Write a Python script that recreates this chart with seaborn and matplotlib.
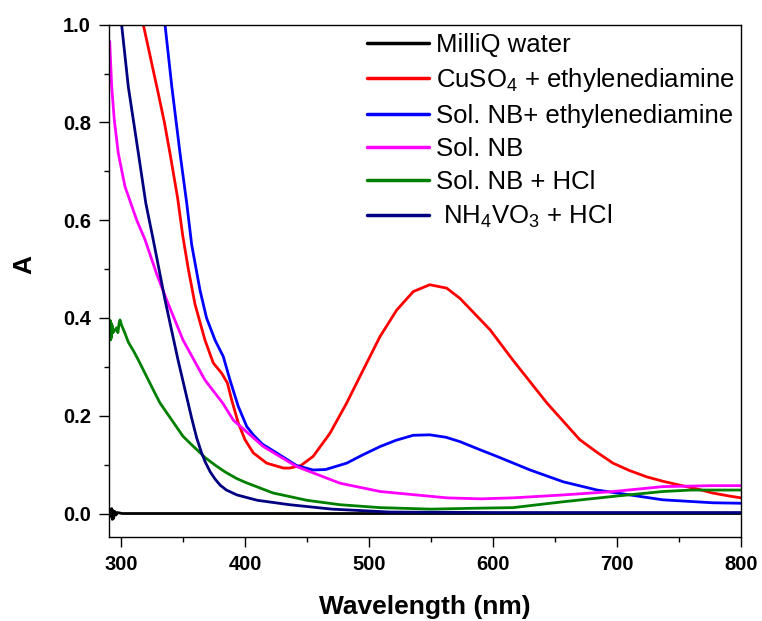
import numpy as np
import pandas as pd
import matplotlib
matplotlib.use("Agg")
import matplotlib.pyplot as plt
import seaborn as sns

# ---- data ----
labels = ["MilliQ water",
          "CuSO$_4$ + ethylenediamine",
          "Sol. NB+ ethylenediamine",
          "Sol. NB",
          "Sol. NB + HCl",
          " NH$_4$VO$_3$ + HCl"]
colors = ["#000000", "#ff0000", "#0000ff", "#ff00ff", "#008000", "#000080"]

water_wl = [290.5, 291, 292, 292.5, 293, 293.5, 294, 295, 296, 297, 299, 301, 350, 400, 500, 600, 700, 800]
water_A = [0.0, 0.008, -0.006, 0.010, -0.012, 0.006, -0.010, 0.004, -0.003, 0.002, 0.001, 0.0,
           0.0, 0.0, 0.0, 0.0, 0.0, 0.0]

cu_wl = [318, 324, 330, 335, 339.5, 345.7, 349.7, 354.3, 359.7, 367.7, 374.4, 381.2, 385.8, 389.3,
         394.6, 400, 406.7, 417.5, 431, 436, 445, 455, 468.5, 482, 495.4, 508.9, 522.3, 535.7,
         549, 562.7, 573.4, 597.6, 616, 643.5, 670, 684, 696.8, 710, 724, 737, 750.8, 765, 777,
         790, 800]
cu_A = [1.0, 0.93, 0.86, 0.80, 0.737, 0.645, 0.57, 0.50, 0.428, 0.355, 0.308, 0.287, 0.267,
        0.232, 0.185, 0.151, 0.124, 0.103, 0.093, 0.093, 0.098, 0.117, 0.164, 0.226, 0.294,
        0.362, 0.416, 0.454, 0.468, 0.461, 0.44, 0.376, 0.314, 0.226, 0.151, 0.125, 0.103,
        0.088, 0.075, 0.066, 0.058, 0.050, 0.042, 0.036, 0.032]

nben_wl = [335.5, 341, 347.6, 353, 357, 363.7, 369, 375.8, 382.5, 387.9, 394.6, 401.4, 407, 414,
           428, 441.7, 455, 465, 482, 495, 509, 522, 535.7, 549, 562, 573.4, 588, 603, 630,
           656.5, 684, 710.5, 737, 777, 800]
nben_A = [1.0, 0.873, 0.737, 0.635, 0.55, 0.457, 0.40, 0.355, 0.321, 0.273, 0.219, 0.178, 0.16,
          0.142, 0.12, 0.098, 0.089, 0.090, 0.103, 0.12, 0.137, 0.15, 0.16, 0.161, 0.156, 0.147,
          0.132, 0.117, 0.089, 0.065, 0.048, 0.038, 0.028, 0.022, 0.021]

nb_wl = [290.9, 291.5, 292.5, 294.6, 297.8, 303.2, 312.7, 319.4, 328.8, 336.8, 350, 367.7, 382,
         390.6, 414.8, 441.7, 476.6, 509, 563, 590, 616, 656.5, 697, 737, 777, 800]
nb_A = [0.966, 0.93, 0.873, 0.805, 0.737, 0.669, 0.60, 0.56, 0.49, 0.437, 0.355, 0.273, 0.226,
        0.191, 0.137, 0.096, 0.062, 0.045, 0.032, 0.030, 0.032, 0.038, 0.045, 0.055, 0.057, 0.057]

nbhcl_wl = [290.5, 291, 291.3, 291.7, 292, 292.4, 292.8, 293.5, 295, 296.5, 297.5, 298.5, 299.2,
            300.5, 303, 306, 310, 314, 327.4, 331.5, 341, 350, 356, 362.3, 368, 377, 384, 393,
            400, 422.6, 450, 476.6, 509, 550, 590, 616, 656.5, 697, 737, 760, 800]
nbhcl_A = [0.38, 0.36, 0.395, 0.355, 0.39, 0.36, 0.385, 0.37, 0.375, 0.38, 0.37, 0.39, 0.396,
           0.385, 0.37, 0.35, 0.333, 0.314, 0.246, 0.226, 0.191, 0.158, 0.143, 0.128, 0.114,
           0.097, 0.085, 0.072, 0.064, 0.042, 0.027, 0.018, 0.012, 0.009, 0.011, 0.012, 0.024,
           0.035, 0.045, 0.048, 0.048]

nh4_wl = [300.5, 305.9, 314, 320, 326, 335.5, 346, 357, 361, 365, 368, 372, 376, 380, 385,
          393.5, 410, 436, 470, 517, 600, 800]
nh4_A = [1.0, 0.873, 0.737, 0.635, 0.56, 0.437, 0.314, 0.195, 0.155, 0.124, 0.105, 0.085, 0.070,
         0.058, 0.048, 0.038, 0.027, 0.018, 0.009, 0.003, 0.002, 0.002]

x_ticks = [300, 400, 500, 600, 700, 800]
y_ticks = [0.0, 0.2, 0.4, 0.6, 0.8, 1.0]

# ---- build long table ----
series = [(labels[0], water_wl, water_A), (labels[1], cu_wl, cu_A),
          (labels[2], nben_wl, nben_A), (labels[3], nb_wl, nb_A),
          (labels[4], nbhcl_wl, nbhcl_A), (labels[5], nh4_wl, nh4_A)]
frames = []
for name, wl, a in series:
    frames.append(pd.DataFrame({"wl": wl, "A": a, "series": name}))
df = pd.concat(frames, ignore_index=True)

sns.set_style("ticks")
plt.rcParams["font.family"] = ["Liberation Sans", "DejaVu Sans"]
plt.rcParams["mathtext.fontset"] = "custom"
plt.rcParams["mathtext.rm"] = "Liberation Sans"
plt.rcParams["mathtext.it"] = "Liberation Sans:italic"
plt.rcParams["mathtext.bf"] = "Liberation Sans:bold"
for key in ["text.color", "axes.labelcolor", "xtick.color", "ytick.color", "axes.edgecolor"]:
    plt.rcParams[key] = "black"

fig = plt.figure(figsize=(7.62, 6.21), dpi=100)
ax = fig.add_axes([0.1430, 0.1353, 0.8294, 0.8250])

sns.lineplot(data=df, x="wl", y="A", hue="series", hue_order=labels,
             palette=dict(zip(labels, colors)), sort=False, estimator=None,
             linewidth=2.0, ax=ax)
for ln in ax.get_lines():
    ln.set_solid_joinstyle("round")

ax.set_xlim(290.3, 800)
ax.set_ylim(-0.048, 1.0)
ax.set_xticks(x_ticks)
ax.set_yticks(y_ticks)
ax.set_xticklabels([str(t) for t in x_ticks])
ax.set_yticklabels([f"{t:.1f}" for t in y_ticks])
ax.set_xticks([350, 450, 550, 650, 750], minor=True)
ax.set_yticks([0.1, 0.3, 0.5, 0.7, 0.9], minor=True)
ax.tick_params(which="major", direction="out", length=7, width=1.0, labelsize=14.5, pad=6,
               color="black", labelcolor="black")
ax.tick_params(which="minor", direction="out", length=3.6, width=1.0, color="black")
for lab in ax.get_xticklabels() + ax.get_yticklabels():
    lab.set_fontweight("bold")
for s in ax.spines.values():
    s.set_linewidth(1.0)
    s.set_color("black")

ax.set_xlabel("Wavelength (nm)", fontsize=19, fontweight="bold", labelpad=15, color="black")
ax.set_ylabel("A", fontsize=19, fontweight="bold", color="black")
ax.yaxis.set_label_coords(-0.115, 0.531)

handles, hl = ax.get_legend_handles_labels()
leg = ax.legend(handles, hl, loc="upper left", bbox_to_anchor=(367 / 762, 1 - 33 / 621),
                bbox_transform=fig.transFigure, frameon=False, fontsize=18.5,
                handlelength=2.4, handletextpad=0.28, labelspacing=0.36, borderpad=0,
                borderaxespad=0)
for line in leg.get_lines():
    line.set_linewidth(2.5)
for t in leg.get_texts():
    t.set_color("black")

fig.savefig("out.png", dpi=100)
